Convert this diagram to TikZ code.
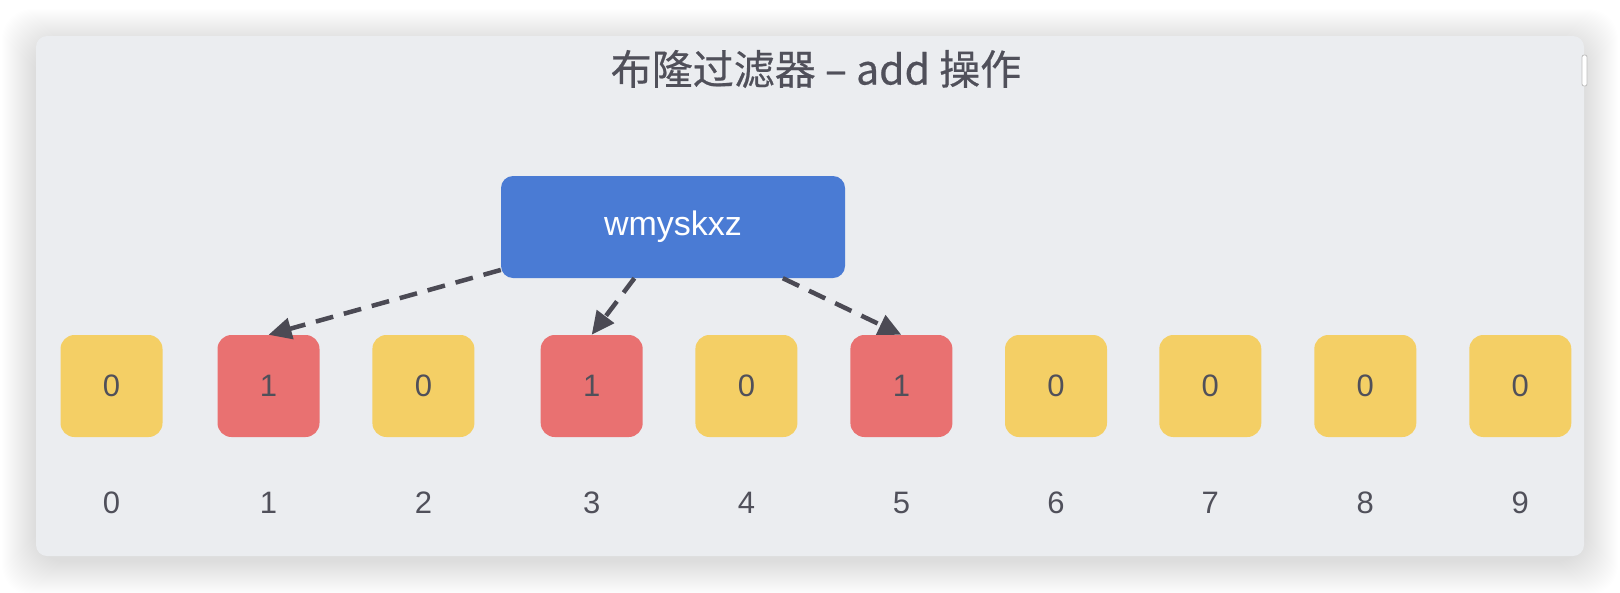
\documentclass[tikz,border=0pt]{standalone}
\usepackage{fontspec}
\setmainfont{Liberation Sans}
\newfontfamily\cjk[FakeBold=0.5]{Noto Sans CJK SC}
\usetikzlibrary{arrows.meta}
\definecolor{cardbg}{HTML}{EBEDF0}
\definecolor{cblue}{HTML}{4A7BD4}
\definecolor{cyel}{HTML}{F4CF65}
\definecolor{cred}{HTML}{E97171}
\definecolor{txt}{HTML}{50505A}
\definecolor{arr}{HTML}{4B4A54}
\begin{document}
\begin{tikzpicture}[x=1pt,y=-1pt,
  cell/.style={minimum width=102pt, minimum height=102pt, rounded corners=14pt, inner sep=0pt, text=txt, font=\fontsize{31}{31}\selectfont},
  zero/.style={cell, fill=cyel},
  one/.style={cell, fill=cred},
  idx/.style={text=txt, inner sep=0pt, font=\fontsize{31}{31}\selectfont},
  link/.style={draw=arr, line width=4.5pt, dash pattern=on 18pt off 11pt, -{Triangle[length=23pt,width=21pt]}}
]
\useasboundingbox (0,0) rectangle (1620,592);
\fill[white] (0,0) rectangle (1620,592);
\foreach \k in {1,...,34}{
  \fill[black, opacity=0.0055, rounded corners=30pt] (36-\k,36-\k+7) rectangle (1584+\k,556+\k+5);
}
\path[fill=cardbg, rounded corners=11pt] (36,36) rectangle (1584,556);
\path[fill=white, draw=black!25, line width=0.8pt, rounded corners=2pt] (1582,55) rectangle (1587,86);

\node[text=txt, font=\cjk\fontsize{41}{41}\selectfont] (title) at (816,69) {布隆过滤器 – add 操作};

\node[fill=cblue, minimum width=344pt, minimum height=102pt, rounded corners=12pt, text=white, font=\fontsize{34}{34}\selectfont] (word) at (673,227) {wmyskxz};

\node[zero] (c0) at (111.5,386) {0};
\node[one]  (c1) at (268.5,386) {1};
\node[zero] (c2) at (423.4,386) {0};
\node[one]  (c3) at (591.7,386) {1};
\node[zero] (c4) at (746.4,386) {0};
\node[one]  (c5) at (901.4,386) {1};
\node[zero] (c6) at (1056,386) {0};
\node[zero] (c7) at (1210.3,386) {0};
\node[zero] (c8) at (1365.3,386) {0};
\node[zero] (c9) at (1520.3,386) {0};

\node[idx] (i0) at (111.5,503) {0};
\node[idx] (i1) at (268.5,503) {1};
\node[idx] (i2) at (423.4,503) {2};
\node[idx] (i3) at (591.7,503) {3};
\node[idx] (i4) at (746.4,503) {4};
\node[idx] (i5) at (901.4,503) {5};
\node[idx] (i6) at (1056,503) {6};
\node[idx] (i7) at (1210.3,503) {7};
\node[idx] (i8) at (1365.3,503) {8};
\node[idx] (i9) at (1520.3,503) {9};

\draw[link] (word.-166) -- (c1.north);
\draw[link] (word.-127) -- (c3.north);
\draw[link] (word.-25) -- (c5.north);
\end{tikzpicture}
\end{document}
